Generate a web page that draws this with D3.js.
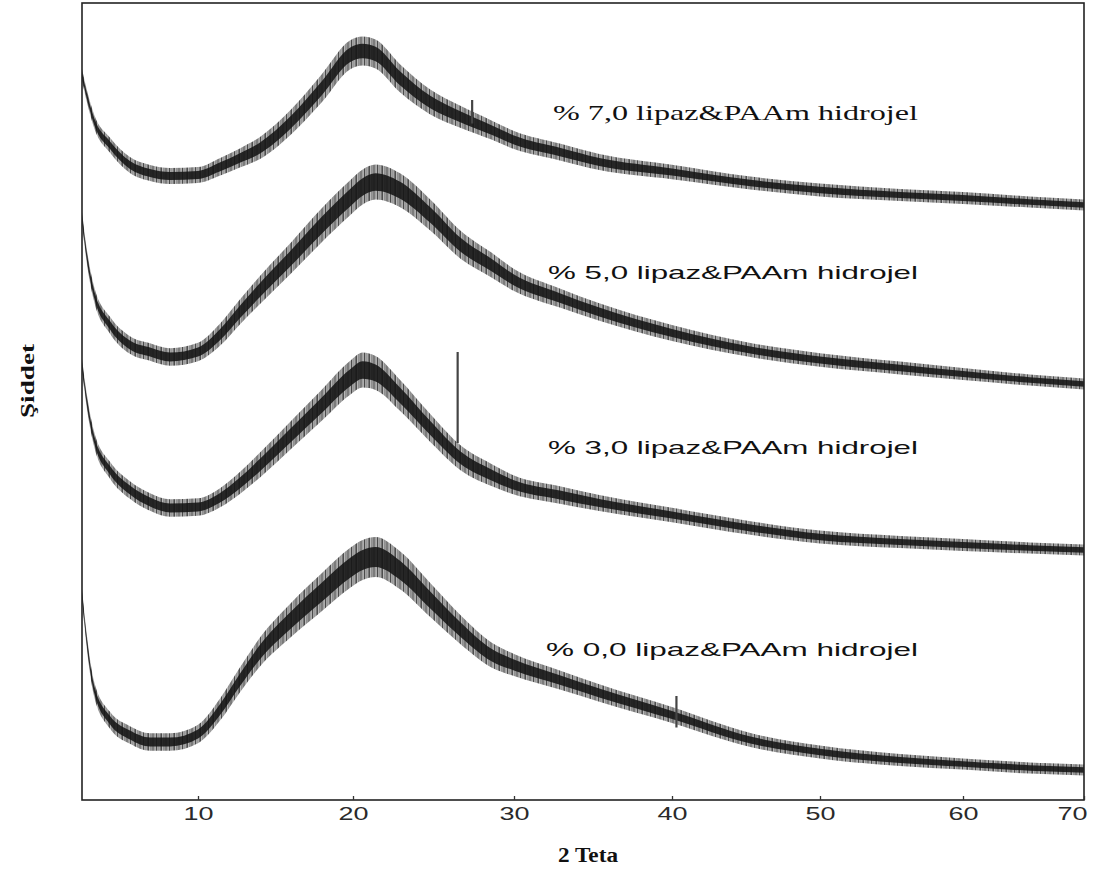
<!DOCTYPE html>
<html>
<head>
<meta charset="utf-8">
<script src="https://cdn.jsdelivr.net/npm/d3@7"></script>
<style>
  body { margin: 0; background: #fff; }
  svg { display: block; }
</style>
</head>
<body>
<script>
// 2 theta grid (degrees) the patterns were read at
const twoTheta = [2.5, 2.8, 3.3, 4.3, 5.6, 6.9, 8.2, 10, 11.4, 12.7, 14, 16, 18, 19.8, 20.6, 21.4,
    22.9, 24.8, 26.7, 28.6, 30, 32.9, 35.4, 40, 45.3, 50, 55.6, 60, 65.5, 70];

// intensities (a.u., before stacking offset)
const lipaz70 = [825, 725, 590, 475, 375, 335, 320, 325, 365, 410, 460, 590, 760, 925, 945, 930,
    810, 690, 615, 550, 500, 440, 390, 340, 285, 250, 225, 210, 190, 175];
const lipaz50 = [1010, 825, 625, 475, 375, 340, 315, 340, 425, 540, 650, 810, 975, 1110, 1165, 1190,
    1150, 1025, 875, 775, 700, 610, 540, 435, 350, 300, 260, 230, 200, 180];
const lipaz30 = [1075, 900, 700, 550, 450, 390, 360, 365, 410, 485, 575, 725, 875, 1010, 1050, 1035,
    925, 760, 610, 525, 475, 425, 385, 325, 260, 215, 190, 175, 160, 150];
const lipaz00 = [1025, 800, 550, 400, 325, 290, 290, 330, 450, 600, 740, 900, 1040, 1160, 1200, 1215,
    1150, 1000, 850, 725, 675, 600, 535, 425, 300, 240, 200, 180, 160, 150];

// scatter (noise half-width) of each pattern
const noise70 = [30, 30, 34, 38, 40, 40, 40, 40, 44, 48, 55, 62, 70, 72, 72, 72,
    70, 62, 55, 48, 45, 42, 40, 36, 32, 32, 30, 30, 28, 28];
const noise50 = [30, 34, 38, 42, 44, 44, 44, 46, 55, 62, 70, 78, 85, 88, 88, 88,
    85, 78, 70, 62, 55, 48, 44, 40, 35, 34, 32, 30, 28, 28];
const noise30 = [30, 34, 38, 42, 44, 44, 44, 44, 48, 55, 62, 70, 78, 85, 88, 85,
    78, 70, 62, 55, 48, 44, 40, 36, 34, 32, 30, 30, 28, 28];
const noise00 = [30, 34, 38, 42, 44, 44, 44, 46, 55, 62, 72, 85, 95, 100, 100, 100,
    95, 85, 72, 62, 55, 48, 44, 40, 35, 32, 30, 28, 28, 28];

const offsets = [2800, 1900, 1100, 0];
const labels = ['% 7,0 lipaz&PAAm hidrojel', '%  5,0 lipaz&PAAm hidrojel',
    '%  3,0 lipaz&PAAm hidrojel', '%  0,0 lipaz&PAAm hidrojel'];

// single sharp reflections: [series index, 2theta, peak intensity]
const spikes = [[0, 27.4, 700], [2, 26.5, 1140], [3, 40.3, 520]];

const xTicks = [10, 20, 30, 40, 50, 60, 70];

const W = 1097;
const H = 870;
const margin = { left: 82, right: 1084, top: 3, bottom: 800 };

const svg = d3.select('body').append('svg')
    .attr('width', W)
    .attr('height', H);

// vertical hairline texture for the noisy band
const defs = svg.append('defs');
const pat = defs.append('pattern')
    .attr('id', 'noise')
    .attr('patternUnits', 'userSpaceOnUse')
    .attr('width', 13)
    .attr('height', 40);
pat.append('rect').attr('width', 13).attr('height', 40).attr('fill', '#b8b8b8');
[[0, 1.2, '#4a4a4a'], [2.5, 0.8, '#7a7a7a'], [4.5, 1.3, '#333'], [7.5, 0.9, '#666'],
    [9.5, 1, '#3e3e3e'], [11.5, 0.7, '#888']]
    .forEach(([px, w, c]) => {
        pat.append('rect').attr('x', px).attr('width', w).attr('height', 40).attr('fill', c);
    });

// the printed axis is not quite uniform, so map it piece by piece
const x = d3.scaleLinear()
    .domain([2.5, 10, 20, 30, 40, 50, 60, 70])
    .range([margin.left, 198, 353, 514, 672, 820, 963, margin.right]);

const y = d3.scaleLinear()
    .domain([0, 3985])
    .range([margin.bottom, margin.top]);

const series = [lipaz70, lipaz50, lipaz30, lipaz00].map((vals, i) => {
    const nz = [noise70, noise50, noise30, noise00][i];
    return vals.map((v, j) => ({ t: twoTheta[j], v: v + offsets[i], n: nz[j] }));
});

const band = k => d3.area()
    .x(d => x(d.t))
    .y0(d => y(d.v - d.n * k))
    .y1(d => y(d.v + d.n * k))
    .curve(d3.curveMonotoneX);

const g = svg.append('g');

series.forEach((s) => {
    g.append('path')
        .attr('d', band(1)(s))
        .attr('fill', 'url(#noise)');
    g.append('path')
        .attr('d', band(0.5)(s))
        .attr('fill', '#151515')
        .attr('opacity', 0.88);
});

const bis = d3.bisector(d => d.t).left;
spikes.forEach(([i, t, peak]) => {
    const s = series[i];
    const j = bis(s, t);
    const base = (s[j - 1].v + s[j].v) / 2;
    g.append('line')
        .attr('x1', x(t)).attr('x2', x(t))
        .attr('y1', y(base)).attr('y2', y(peak + offsets[i]))
        .attr('stroke', '#444')
        .attr('stroke-width', 2.2);
});

// frame
svg.append('rect')
    .attr('x', margin.left)
    .attr('y', margin.top)
    .attr('width', margin.right - margin.left)
    .attr('height', margin.bottom - margin.top)
    .attr('fill', 'none')
    .attr('stroke', '#222')
    .attr('stroke-width', 1.6);

const xAxis = svg.append('g')
    .attr('transform', `translate(0,${margin.bottom})`)
    .call(d3.axisBottom(x).tickValues(xTicks).tickSizeInner(-4).tickSizeOuter(0).tickPadding(7));

xAxis.select('.domain').remove();
xAxis.selectAll('.tick line').attr('stroke', '#333').attr('stroke-width', 1.3);
xAxis.selectAll('.tick text')
    .attr('fill', '#2a2a2a')
    .attr('textLength', 30)
    .attr('lengthAdjust', 'spacingAndGlyphs')
    .style('font-family', '"Liberation Sans", Arial, sans-serif')
    .style('font-size', '18px');
xAxis.selectAll('.tick text').filter(d => d === 70).attr('dx', -12);

// series labels
const labelPos = [[553, 120, 'serif'], [548, 279, 'sans'], [548, 454, 'sans'], [546, 656, 'sans']];
labels.forEach((txt, i) => {
    const [lx, ly, fam] = labelPos[i];
    svg.append('text')
        .attr('x', lx)
        .attr('y', ly)
        .attr('textLength', 918 - lx)
        .attr('lengthAdjust', 'spacingAndGlyphs')
        .style('font-family', fam === 'serif' ? '"Liberation Serif", "Times New Roman", serif'
            : '"Liberation Sans", Arial, sans-serif')
        .style('font-size', fam === 'serif' ? '21px' : '19px')
        .attr('fill', '#111')
        .text(txt);
});

svg.append('text')
    .attr('x', 558)
    .attr('y', 862)
    .attr('textLength', 60)
    .attr('lengthAdjust', 'spacingAndGlyphs')
    .style('font-family', '"Liberation Serif", "Times New Roman", serif')
    .style('font-weight', 'bold')
    .style('font-size', '20px')
    .attr('fill', '#111')
    .text('2 Teta');

svg.append('text')
    .attr('transform', 'translate(34,418) rotate(-90)')
    .attr('textLength', 74)
    .attr('lengthAdjust', 'spacingAndGlyphs')
    .style('font-family', '"Liberation Serif", "Times New Roman", serif')
    .style('font-weight', 'bold')
    .style('font-size', '19px')
    .attr('fill', '#111')
    .text('Şiddet');
</script>
</body>
</html>
